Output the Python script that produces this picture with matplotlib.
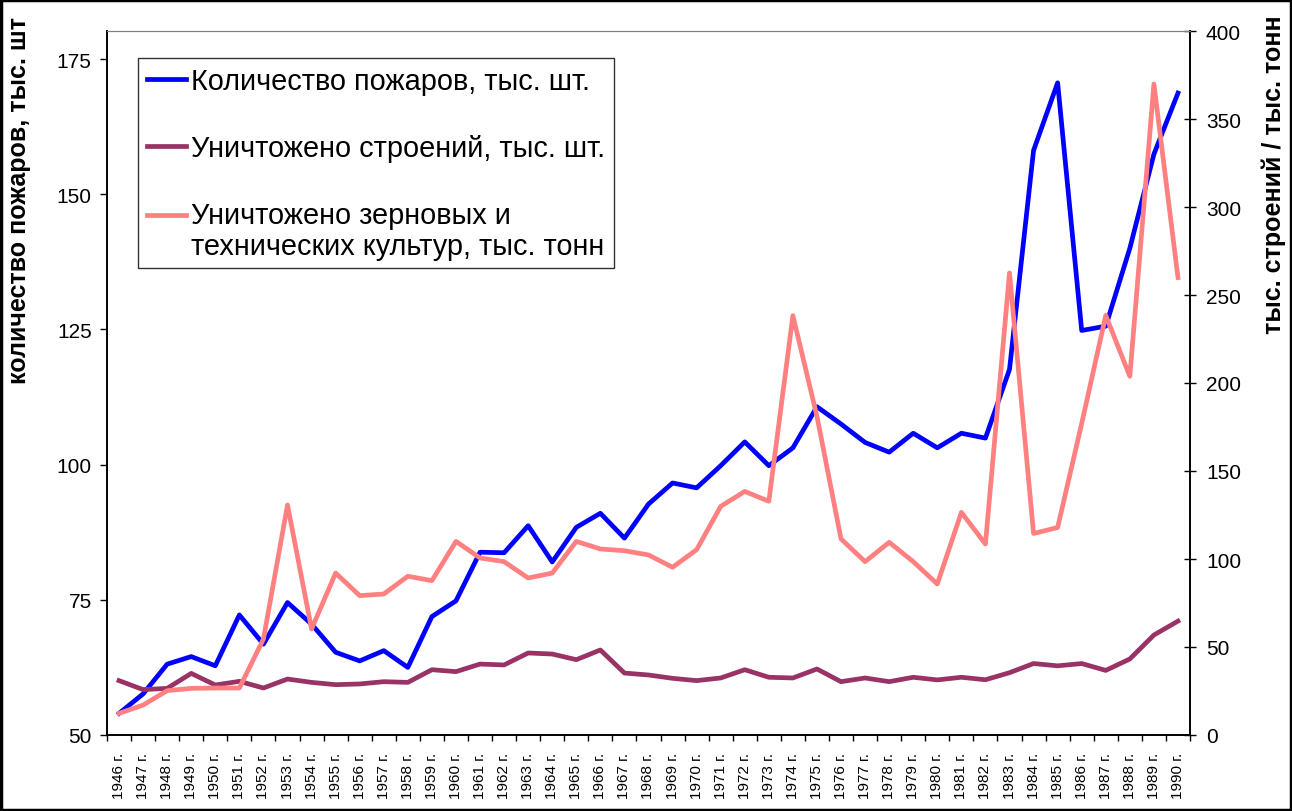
import numpy as np
import matplotlib.pyplot as plt
from matplotlib.ticker import FixedLocator, NullFormatter
from matplotlib.legend_handler import HandlerLine2D
from matplotlib.patches import Rectangle

plt.rcParams['font.family'] = ['Liberation Sans', 'DejaVu Sans']

# ---------------------------------------------------------
# Data
# ---------------------------------------------------------
years = list(range(1946, 1991))
year_labels = [f"{y} г." for y in years]

# количество пожаров, тыс. шт (left axis)
fires = [54.0, 57.6, 63.1, 64.5, 62.8, 72.2, 66.8, 74.5, 70.5, 65.3,
         63.7, 65.6, 62.5, 71.9, 74.8, 83.8, 83.7, 88.7, 82.0, 88.4,
         91.0, 86.4, 92.7, 96.6, 95.7, 99.8, 104.2, 99.8, 103.1, 110.7,
         107.5, 104.1, 102.3, 105.8, 103.1, 105.8, 104.9, 117.6, 158.1, 170.6,
         124.8, 125.6, 140.0, 157.4, 168.7]

# уничтожено строений, тыс. шт (right axis)
buildings = [30.9, 25.8, 26.5, 35.0, 28.4, 30.5, 26.7, 31.8, 29.9, 28.6,
             29.0, 30.3, 29.9, 37.1, 36.0, 40.3, 39.8, 46.6, 46.0, 42.8,
             48.3, 35.2, 34.1, 32.2, 30.9, 32.4, 37.1, 32.8, 32.4, 37.5,
             30.3, 32.4, 30.3, 32.8, 31.3, 32.8, 31.4, 35.4, 40.6, 39.3,
             40.6, 36.7, 43.2, 56.8, 64.7]

# уничтожено зерновых и технических культур, тыс. тонн (right axis)
grain = [12.3, 17.0, 25.2, 26.5, 26.7, 26.7, 54.5, 130.7, 60.2, 92.0,
         79.2, 80.1, 90.2, 87.7, 110.0, 100.6, 98.5, 89.2, 92.0, 110.0,
         105.7, 104.7, 102.3, 95.3, 105.3, 129.9, 138.4, 132.8, 238.3, 181.0,
         111.4, 98.5, 109.5, 98.5, 85.8, 126.5, 108.5, 262.5, 114.5, 117.9,
         177.0, 238.4, 203.8, 369.9, 259.9]

left_ticks = [50, 75, 100, 125, 150, 175]
right_ticks = [0, 50, 100, 150, 200, 250, 300, 350, 400]


# legend handle sitting on the first line of a two-line label
class HandlerFirstLine(HandlerLine2D):
    def create_artists(self, legend, orig_handle, xdescent, ydescent,
                       width, height, fontsize, trans):
        return super().create_artists(legend, orig_handle, xdescent,
                                      ydescent - 1.1 * fontsize, width, height,
                                      fontsize, trans)


# ---------------------------------------------------------
# Figure
# ---------------------------------------------------------
fig = plt.figure(figsize=(12.92, 8.12), dpi=100)
ax = fig.add_axes([107 / 1292, 1 - 736 / 812, 1083 / 1292, 704 / 812])
ax2 = ax.twinx()

x = np.arange(len(years))
lw = 3.4
l1, = ax.plot(x, fires, color='#0000FF', lw=lw)
l2, = ax2.plot(x, buildings, color='#993366', lw=lw)
l3, = ax2.plot(x, grain, color='#FF8080', lw=lw)

ax.set_xlim(-0.5, len(years) - 0.5)
ax.set_ylim(50, 50 + 704 / 5.408)
ax2.set_ylim(0, 400)

ax.set_yticks(left_ticks)
ax2.set_yticks(right_ticks)
ax.set_xticks(x)
ax.set_xticklabels(year_labels, rotation=90, fontsize=11)
ax.tick_params(axis='x', which='major', length=0, pad=12)
ax.xaxis.set_minor_locator(FixedLocator(np.arange(-0.5, len(years), 1)))
ax.xaxis.set_minor_formatter(NullFormatter())
ax.tick_params(axis='x', which='minor', length=4.5, width=1, direction='out')
ax.tick_params(axis='y', direction='out', length=5, width=1, labelsize=15, pad=6)
ax2.tick_params(axis='y', direction='inout', length=9, width=1, labelsize=15, pad=7)

for a in (ax, ax2):
    a.spines['top'].set_color('#808080')
    a.spines['left'].set_linewidth(1.2)
    a.spines['right'].set_linewidth(1.2)
    a.spines['bottom'].set_linewidth(1.2)

ax.set_ylabel("количество пожаров, тыс. шт", fontsize=18, fontweight='bold')
ax.yaxis.set_label_coords(-0.070, 0.76)
ax2.set_ylabel("тыс. строений / тыс. тонн", fontsize=18, fontweight='bold', rotation=90)
ax2.yaxis.set_label_coords(1.066, 0.797)

leg = ax.legend([l1, l2, l3],
                ["Количество пожаров, тыс. шт.",
                 "Уничтожено строений, тыс. шт.",
                 "Уничтожено зерновых и\nтехнических культур, тыс. тонн"],
                handler_map={l3: HandlerFirstLine()},
                loc='upper left', bbox_to_anchor=(0.0286, 0.961),
                fontsize=20.8, frameon=True, fancybox=False, edgecolor='black',
                handlelength=1.35, handletextpad=0.2, labelspacing=1.35,
                borderpad=0.3, borderaxespad=0)
leg.get_frame().set_linewidth(1.0)
for t in leg.get_texts():
    t.set_linespacing(1.12)
leg.set_zorder(10)

# outer figure border
fig.patches.append(Rectangle((0.001, 0.001), 0.998, 0.998, transform=fig.transFigure,
                             fill=False, edgecolor='black', lw=2.5))

plt.savefig('out.png', dpi=100)
